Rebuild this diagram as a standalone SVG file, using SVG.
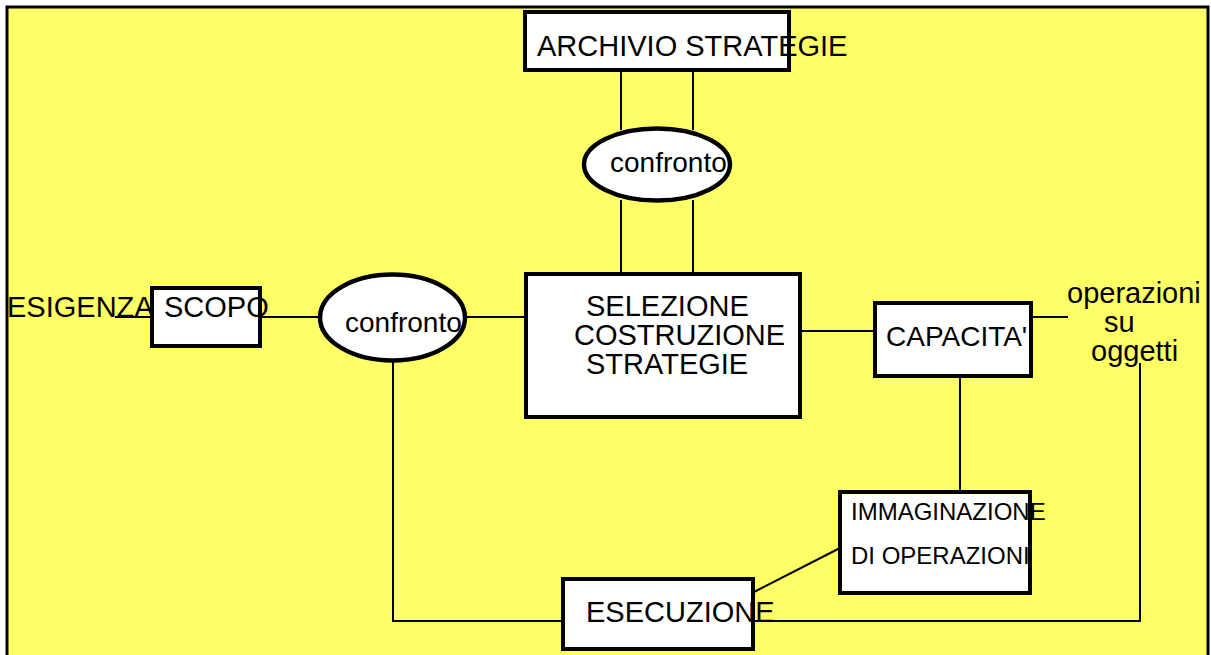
<svg xmlns="http://www.w3.org/2000/svg" width="1211" height="655" viewBox="0 0 1211 655">
<style>
.box{fill:#fff;stroke:#000;stroke-width:4}
.ell{fill:#fff;stroke:#000;stroke-width:4.5}
.ln{fill:none;stroke:#000;stroke-width:2}
text{font-family:"Liberation Sans",Arial,sans-serif;font-size:29px;fill:#000}
.cf{font-size:28px}
.sm{font-size:24px}
</style>
<rect width="1211" height="655" fill="#fff"/>
<rect x="7" y="7" width="1201" height="660" fill="#ffff66" stroke="#000" stroke-width="3"/>
<g id="connectors">
<line class="ln" x1="621" y1="72" x2="621" y2="130"/>
<line class="ln" x1="693" y1="72" x2="693" y2="130"/>
<line class="ln" x1="621" y1="200" x2="621" y2="274"/>
<line class="ln" x1="693" y1="200" x2="693" y2="274"/>
<line class="ln" x1="115" y1="317" x2="152" y2="317"/>
<line class="ln" x1="260" y1="317" x2="320" y2="317"/>
<line class="ln" x1="466" y1="317" x2="526" y2="317"/>
<line class="ln" x1="800" y1="331" x2="875" y2="331"/>
<line class="ln" x1="1031" y1="317" x2="1068" y2="317"/>
<line class="ln" x1="960" y1="376" x2="960" y2="492"/>
<polyline class="ln" points="393,361 393,621 563,621"/>
<polyline class="ln" points="753,621 1140,621 1140,363"/>
<line class="ln" x1="754" y1="592" x2="840" y2="548"/>
</g>
<g id="archivio">
<rect class="box" x="525" y="12" width="264" height="58"/>
<text x="537" y="56">ARCHIVIO STRATEGIE</text>
</g>
<g id="confronto-top">
<ellipse class="ell" cx="657" cy="164.5" rx="73" ry="36"/>
<text class="cf" x="610" y="172">confronto</text>
</g>
<g id="esigenza">
<text x="7" y="317">ESIGENZA</text>
</g>
<g id="scopo">
<rect class="box" x="152" y="288" width="108" height="58"/>
<text x="164" y="317">SCOPO</text>
</g>
<g id="confronto-left">
<ellipse class="ell" cx="392.5" cy="317.5" rx="72.5" ry="43"/>
<text class="cf" x="345" y="332">confronto</text>
</g>
<g id="selezione">
<rect class="box" x="526" y="274" width="274" height="143"/>
<text x="586" y="316">SELEZIONE</text>
<text x="574" y="345">COSTRUZIONE</text>
<text x="586" y="374">STRATEGIE</text>
</g>
<g id="capacita">
<rect class="box" x="875" y="303" width="156" height="73"/>
<text class="cf" x="886" y="346">CAPACITA'</text>
</g>
<g id="operazioni">
<text x="1067" y="303">operazioni</text>
<text x="1104" y="332">su</text>
<text x="1091" y="361">oggetti</text>
</g>
<g id="immaginazione">
<rect class="box" x="840" y="492" width="190" height="101"/>
<text class="sm" x="851" y="520">IMMAGINAZIONE</text>
<text class="sm" x="851" y="564">DI OPERAZIONI</text>
</g>
<g id="esecuzione">
<rect class="box" x="563" y="579" width="190" height="70"/>
<text x="586" y="622">ESECUZIONE</text>
</g>
</svg>
